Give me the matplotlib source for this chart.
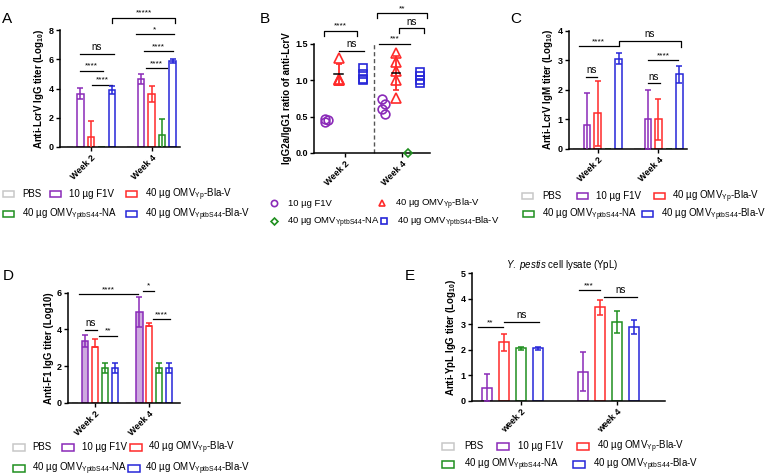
import numpy as np
import matplotlib
matplotlib.use('Agg')
import matplotlib.pyplot as plt
from matplotlib.patches import Rectangle
from matplotlib.lines import Line2D

plt.rcParams['font.family'] = ['Liberation Sans', 'DejaVu Sans']
plt.rcParams['mathtext.fontset'] = 'custom'
plt.rcParams['mathtext.rm'] = 'Liberation Sans'
plt.rcParams['mathtext.it'] = 'Liberation Sans:italic'
plt.rcParams['mathtext.bf'] = 'Liberation Sans:bold'
plt.rcParams['mathtext.default'] = 'regular'

# ---------------- data ----------------
group_labels = ['PBS', '10 µg F1V', '40 µg OMV$_{Yp}$-Bla-V',
                '40 µg OMV$_{YptbS44}$-NA', '40 µg OMV$_{YptbS44}$-Bla-V']
weeks = ['Week 2', 'Week 4']
weeks_lower = ['week 2', 'week 4']

# A: anti-LcrV IgG (PBS, F1V, Yp, NA, S44)
a_week2 = [0, 3.65, 0.65, 0, 3.9]
a_err2 = [0, 0.38, 1.15, 0, 0.3]
a_week4 = [0, 4.65, 3.65, 0.8, 5.87]
a_err4 = [0, 0.35, 0.55, 1.1, 0.15]

# B: IgG2a/IgG1 ratio, individual points (F1V, Yp, NA, S44)
b_f1v = [[0.43, 0.45, 0.46], [0.74, 0.67, 0.61, 0.54]]
b_yp = [[1.0, 1.0, 1.01, 1.3], [1.37, 1.25, 1.13, 1.0, 0.76]]
b_na = [[], [0.0]]
b_s44 = [[1.0, 1.02, 1.08, 1.16], [1.11, 1.06, 1.0, 0.96]]

# C: anti-LcrV IgM
c_week2 = [0, 0.8, 1.2, 0, 3.05]
c_err2 = [0, 1.1, 1.1, 0, 0.18]
c_week4 = [0, 1.0, 1.0, 0, 2.52]
c_err4 = [0, 1.0, 0.7, 0, 0.28]

# D: anti-F1 IgG
d_week2 = [0, 3.35, 3.05, 1.88, 1.88]
d_hi2 = [0, 0.32, 0.4, 0.26, 0.26]
d_lo2 = [0, 0.3, 0.0, 0.25, 0.25]
d_week4 = [0, 4.95, 4.2, 1.88, 1.88]
d_hi4 = [0, 0.83, 0.15, 0.26, 0.26]
d_lo4 = [0, 0.83, 0.0, 0.25, 0.25]

# E: anti-YpL IgG (F1V, Yp, NA, S44)
e_week2 = [0.52, 2.3, 2.07, 2.07]
e_err2 = [0.53, 0.33, 0.06, 0.06]
e_week4 = [1.15, 3.67, 3.09, 2.9]
e_err4 = [0.75, 0.29, 0.44, 0.28]

# ---------------- style ----------------
PURPLE = '#8A2AB8'
RED = '#FF2A2A'
GREEN = '#1F8F1F'
BLUE = '#2626D8'
GREY = '#C8C8C8'
colors = [GREY, PURPLE, RED, GREEN, BLUE]

W, H = 767, 476
fig = plt.figure(figsize=(W / 100, H / 100), dpi=100)


def axes_px(l, t, r, b):
    return fig.add_axes([l / W, 1 - b / H, (r - l) / W, (b - t) / H])


def setup(ax, xlim, ylim, yticks, ylabel, xlabels, fmt=None):
    ax.set_xlim(*xlim)
    ax.set_ylim(*ylim)
    ax.spines[['top', 'right']].set_visible(False)
    for s in ['left', 'bottom']:
        ax.spines[s].set_linewidth(1.1)
    ax.set_yticks(yticks)
    if fmt:
        ax.set_yticklabels([fmt % v for v in yticks])
    ax.set_xticks([0, 1])
    ax.set_xticklabels(xlabels, rotation=45, ha='right', rotation_mode='anchor')
    ax.tick_params(axis='both', direction='out', length=3, width=1.0,
                   labelsize=6.5, pad=1.5)
    for t in ax.get_xticklabels() + ax.get_yticklabels():
        t.set_fontweight('bold')
    ax.set_ylabel(ylabel, fontsize=7, fontweight='bold', labelpad=2)


def sig(ax, x1, x2, y, label, drop=None, fs=6, dy=0.8):
    if drop is None:
        ax.plot([x1, x2], [y, y], color='black', lw=0.9, clip_on=False)
    else:
        dl, dr = drop if isinstance(drop, tuple) else (drop, drop)
        ax.plot([x1, x1, x2, x2], [y - dl, y, y, y - dr], color='black',
                lw=0.9, clip_on=False)
    ax.annotate(label, xy=((x1 + x2) / 2, y), xytext=(0, dy),
                textcoords='offset points', ha='center', va='bottom',
                fontsize=fs, annotation_clip=False)


def bars(ax, vals, los, his, offsets, width, fills=None, idx=None):
    if idx is None:
        idx = range(len(vals[0]))
    for g in range(2):
        for k, i in enumerate(idx):
            x = g + offsets[k]
            fc = 'white' if fills is None else fills[i]
            ax.bar(x, vals[g][k], width, facecolor=fc, edgecolor=colors[i],
                   linewidth=1.1, zorder=2)
            if his[g][k] > 0:
                ax.errorbar(x, vals[g][k], yerr=[[los[g][k]], [his[g][k]]],
                            fmt='none', ecolor=colors[i], elinewidth=1.1,
                            capsize=2.3, capthick=1.1, zorder=3)


def px2fig(x, y):
    return x / W, 1 - y / H


def leg_rect(x, y, color, label, tx, w=11, h=6, fs=7):
    fx, fy = px2fig(x - w / 2, y + h / 2)
    fig.add_artist(Rectangle((fx, fy), w / W, h / H, transform=fig.transFigure,
                             facecolor='white', edgecolor=color, lw=1.1))
    fig.text(tx / W, 1 - (y + 3.3) / H, label, fontsize=fs, va='baseline')


def leg_marker(x, y, marker, color, label, tx, ms=4.5, fs=6.8):
    fx, fy = px2fig(x, y)
    fig.add_artist(Line2D([fx], [fy], marker=marker, color=color, mfc='none',
                          mew=1.2, ms=ms, transform=fig.transFigure))
    fig.text(tx / W, 1 - (y + 3.3) / H, label, fontsize=fs, va='baseline')


def panel_letter(x, ybase, s):
    fig.text(x / W, 1 - ybase / H, s, fontsize=11, va='baseline')


# ---------------- Panel A ----------------
axA = axes_px(60, 30, 180, 147)
spA = 0.174
offA = (np.arange(5) - 2) * spA
bars(axA, [a_week2, a_week4], [a_err2, a_err4], [a_err2, a_err4], offA, 0.105)
setup(axA, (-0.51, 1.47), (0, 8), [0, 2, 4, 6, 8],
      'Anti-LcrV IgG titer (Log$_{10}$)', weeks)
sig(axA, -0.18, 0.38, 6.37, 'ns', fs=7, dy=1.2)
sig(axA, -0.18, 0.20, 5.2, '****')
sig(axA, 0.017, 0.35, 4.27, '****')
sig(axA, 0.91, 1.26, 5.4, '****')
sig(axA, 0.88, 1.36, 6.55, '****')
sig(axA, 0.74, 1.37, 7.7, '*')
sig(axA, 0.35, 1.39, 8.85, '*****', drop=0.35)
panel_letter(2, 23, 'A')
leg_rect(8, 194, GREY, group_labels[0], 22)
leg_rect(55, 194, PURPLE, group_labels[1], 69)
leg_rect(131, 194, RED, group_labels[2], 145)
leg_rect(8, 214, GREEN, group_labels[3], 22)
leg_rect(131, 214, BLUE, group_labels[4], 145)

# ---------------- Panel B ----------------
axB = axes_px(314, 43.7, 430, 153)
offB = (np.arange(4) - 1.5) * 0.215
b_sets = [b_f1v, b_yp, b_na, b_s44]
b_markers = ['o', '^', 'D', 's']
b_colors = [PURPLE, RED, GREEN, BLUE]
b_ms = [6.3, 6.8, 3.8, 6.3]
for k in range(4):
    for g in range(2):
        pts = np.array(b_sets[k][g], dtype=float)
        if len(pts) == 0:
            continue
        x0 = g + offB[k]
        if k == 0:
            jit = ((np.arange(len(pts)) % 2) * 2 - 1) * 0.025
        else:
            jit = np.zeros(len(pts))
        if k == 1:
            m = pts.mean()
            sd = pts.std(ddof=1)
            axB.errorbar(x0, m, yerr=sd, fmt='none', ecolor=RED, elinewidth=1.3,
                         capsize=2.5, capthick=1.2, zorder=2)
            axB.plot([x0 - 0.075, x0 + 0.075], [m, m], color='black', lw=1.1,
                     zorder=4)
        axB.plot(x0 + jit, pts, ls='none', marker=b_markers[k], ms=b_ms[k],
                 mfc='none', mec=b_colors[k], mew=1.2, zorder=3, clip_on=False)
axB.plot([0.51, 0.51], [0, 1.53], color='#555555', lw=1.0, dashes=(3, 2),
         clip_on=False)
setup(axB, (-0.54, 1.49), (0, 1.5), [0, 0.5, 1.0, 1.5],
      'IgG2a/IgG1 ratio of anti-LcrV', weeks, fmt='%.1f')
sig(axB, -0.37, 0.21, 1.68, '****', drop=0.08)
sig(axB, -0.105, 0.33, 1.40, 'ns', fs=7, dy=1.2)
sig(axB, 0.56, 1.44, 1.92, '**', drop=0.07)
sig(axB, 0.95, 1.39, 1.71, 'ns', drop=0.07, fs=7, dy=1.2)
sig(axB, 0.60, 1.14, 1.50, '***')
panel_letter(260, 23, 'B')
leg_marker(274, 203, 'o', PURPLE, group_labels[1], 288)
leg_marker(382, 203, '^', RED, group_labels[2], 395)
leg_marker(274, 221, 'D', GREEN, group_labels[3], 287, ms=3.5)
leg_marker(384, 221, 's', BLUE, group_labels[4], 397)

# ---------------- Panel C ----------------
axC = axes_px(569, 30.7, 687, 148.7)
offC = (np.arange(5) - 2) * 0.172
bars(axC, [c_week2, c_week4], [c_err2, c_err4], [c_err2, c_err4], offC, 0.105)
setup(axC, (-0.47, 1.47), (0, 4), [0, 1, 2, 3, 4],
      'Anti-LcrV IgM titer (Log$_{10}$)', weeks)
sig(axC, -0.30, 0.34, 3.48, '****')
sig(axC, 0.35, 1.37, 3.66, 'ns', drop=(0.18, 0.2), fs=7, dy=1.2)
sig(axC, -0.19, -0.01, 2.44, 'ns', fs=7, dy=1.2)
sig(axC, 0.83, 1.02, 2.22, 'ns', fs=7, dy=1.2)
sig(axC, 0.83, 1.32, 3.0, '****')
panel_letter(510, 23, 'C')
leg_rect(527, 196, GREY, group_labels[0], 542)
leg_rect(582, 196, PURPLE, group_labels[1], 596)
leg_rect(659, 196, RED, group_labels[2], 672)
leg_rect(528, 214, GREEN, group_labels[3], 542)
leg_rect(647, 214, BLUE, group_labels[4], 661)

# ---------------- Panel D ----------------
axD = axes_px(68, 292.7, 180, 402.7)
offD = (np.arange(5) - 2) * 0.183
d_fills = ['white', '#CDA9DF', 'white', 'white', 'white']
bars(axD, [d_week2, d_week4], [d_lo2, d_lo4], [d_hi2, d_hi4], offD, 0.12,
     fills=d_fills)
setup(axD, (-0.5, 1.57), (0, 6), [0, 2, 4, 6],
      'Anti-F1 IgG titer (Log10)', weeks)
sig(axD, -0.29, 0.79, 5.92, '****')
sig(axD, 0.89, 1.09, 6.1, '*')
sig(axD, 1.07, 1.39, 4.56, '****')
sig(axD, -0.18, 0.03, 3.97, 'ns', fs=7, dy=1.2)
sig(axD, 0.065, 0.40, 3.64, '**')
panel_letter(3, 280, 'D')
leg_rect(19, 447, GREY, group_labels[0], 32, w=12, h=7)
leg_rect(68, 447, PURPLE, group_labels[1], 82, w=12, h=7)
leg_rect(136, 447, RED, group_labels[2], 148, w=12, h=7)
leg_rect(19, 468, GREEN, group_labels[3], 32, w=12, h=7)
leg_rect(134, 468, BLUE, group_labels[4], 145, w=12, h=7)

# ---------------- Panel E ----------------
axE = axes_px(472, 273.3, 665, 401)
offE = (np.arange(5) - 3) * 0.177
bars(axE, [e_week2, e_week4], [e_err2, e_err4], [e_err2, e_err4], offE[1:],
     0.105, idx=[1, 2, 3, 4])
setup(axE, (-0.51, 1.5), (0, 5), [0, 1, 2, 3, 4, 5],
      'Anti-YpL IgG titer (Log$_{10}$)', weeks_lower)
sig(axE, -0.45, -0.19, 2.89, '**')
sig(axE, -0.18, 0.19, 3.11, 'ns', fs=7, dy=1.2)
sig(axE, 0.60, 0.82, 4.33, '***')
sig(axE, 0.86, 1.21, 4.09, 'ns', fs=7, dy=1.2)
fig.text(562 / W, 1 - 265 / H, r'$\mathit{Y.}$ $\mathit{pestis}$ cell lysate (YpL)',
         ha='center', va='center', fontsize=7)
panel_letter(405, 280, 'E')
leg_rect(448, 446, GREY, group_labels[0], 464, w=12, h=7)
leg_rect(503, 446, PURPLE, group_labels[1], 518, w=12, h=7)
leg_rect(583, 446, RED, group_labels[2], 597, w=12, h=7)
leg_rect(448, 464, GREEN, group_labels[3], 464, w=12, h=7)
leg_rect(579, 464, BLUE, group_labels[4], 593, w=12, h=7)

fig.savefig('out.png', dpi=100)
